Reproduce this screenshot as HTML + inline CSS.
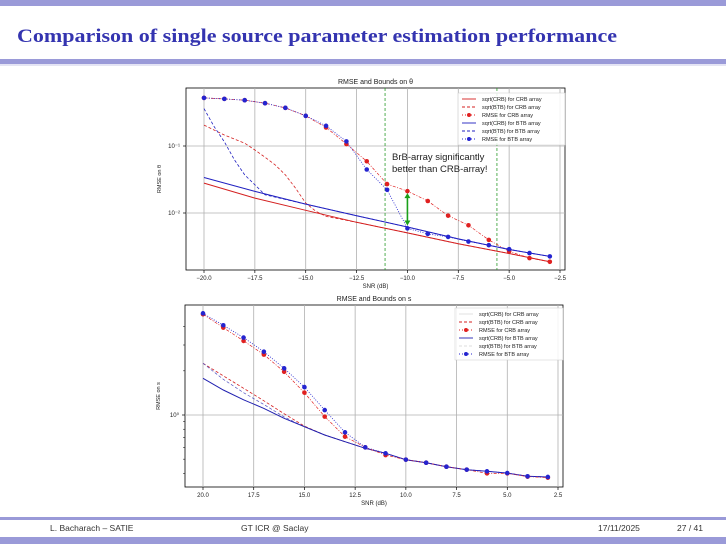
<!DOCTYPE html>
<html><head><meta charset="utf-8">
<style>
html,body{margin:0;padding:0;background:#fff;}
svg{display:block;font-family:"Liberation Sans",sans-serif;}
</style></head>
<body>
<svg id="slide" width="726" height="544" viewBox="0 0 726 544" xmlns="http://www.w3.org/2000/svg">
  <rect x="0" y="0" width="726" height="6" fill="#9a9ad8"/>
  <text x="17" y="42" font-family="Liberation Serif, serif" font-weight="bold" font-size="19" fill="#3434b0" textLength="600" lengthAdjust="spacingAndGlyphs">Comparison of single source parameter estimation performance</text>
  <rect x="0" y="59" width="726" height="5" fill="#9a9ad8"/>
  <rect x="0" y="64" width="726" height="2" fill="#e4e4f4"/>
  <g id="chart1"></g>
  <g id="chart2"></g>
  <rect x="0" y="517" width="726" height="3" fill="#9a9ad8"/>
  <rect x="0" y="537" width="726" height="7" fill="#9a9ad8"/>
  <text x="50" y="531" font-size="8.5" fill="#333">L. Bacharach  –  SATIE</text>
  <text x="241" y="531" font-size="8.5" fill="#333">GT ICR @ Saclay</text>
  <text x="598" y="531" font-size="8.5" fill="#333">17/11/2025</text>
  <text x="677" y="531" font-size="8.5" fill="#333">27 / 41</text>
</svg>
<script>
// ---------- Chart 1 data (RMSE on theta) ----------
const snr1 = [-20,-19,-18,-17,-16,-15,-14,-13,-12,-11,-10,-9,-8,-7,-6,-5,-4,-3];
const rmseBtb1 = [0.522,0.505,0.482,0.435,0.371,0.282,0.200,0.117,0.0446,0.0222,0.0059,0.00487,0.0044,0.00375,0.00331,0.00289,0.00252,0.00225];
const rmseCrb1 = [0.522,0.505,0.482,0.435,0.371,0.282,0.189,0.107,0.0592,0.0270,0.0212,0.0151,0.00912,0.00656,0.00397,0.00267,0.00212,0.00187];
const boundSnr1 = [-20,-17.5,-15,-12.5,-10,-7.5,-5,-3];
const crbCrb1 = [0.0279,0.0167,0.01096,0.00727,0.00505,0.00347,0.00249,0.00187];
const crbBtb1 = [0.0339,0.0210,0.0136,0.00912,0.00619,0.00411,0.00285,0.00225];
const btbSnrCrb1 = [-20,-19,-18,-17.5,-17,-16.5,-16,-15.5,-15,-14.5,-14,-12.5,-10,-7.5,-5,-3];
const btbCrb1 = [0.205,0.146,0.110,0.0873,0.0680,0.0523,0.0371,0.0235,0.0141,0.0106,0.00891,0.00727,0.00505,0.00347,0.00249,0.00187];
const btbSnrBtb1 = [-20,-19.5,-19,-18.5,-18,-17.5,-17,-15,-12.5,-10,-7.5,-5,-3];
const btbBtb1 = [0.362,0.194,0.116,0.0620,0.0371,0.0264,0.0187,0.0136,0.00912,0.00619,0.00411,0.00285,0.00225];
const xTicks1 = [-20,-17.5,-15,-12.5,-10,-7.5,-5,-2.5];
const xTickLabels1 = ["−20.0","−17.5","−15.0","−12.5","−10.0","−7.5","−5.0","−2.5"];
const yTicks1 = [0.1,0.01];
const yTickLabels1 = ["10⁻¹","10⁻²"];
const markerSnr1 = [-11.1,-5.6];
const arrowSnr1 = -10;
const arrowVals1 = [0.0198,0.0065];

// ---------- Chart 2 data (RMSE on s) ----------
const snr2 = [-20,-19,-18,-17,-16,-15,-14,-13,-12,-11,-10,-9,-8,-7,-6,-5,-4,-3];
const rmseBtb2 = [4.93,4.09,3.37,2.70,2.08,1.55,1.08,0.762,0.602,0.548,0.496,0.473,0.444,0.424,0.413,0.402,0.382,0.378];
const rmseCrb2 = [4.86,3.94,3.20,2.58,1.97,1.42,0.975,0.712,0.602,0.533,0.496,0.473,0.444,0.424,0.400,0.400,0.380,0.374];
const crbBtb2 = [1.78,1.48,1.27,1.11,0.949,0.832,0.731,0.658,0.593,0.548,0.496,0.473,0.444,0.424,0.413,0.402,0.382,0.378];
const btbCrb2 = [2.25,1.85,1.52,1.25,1.02,0.84,0.731,0.658,0.593,0.548,0.496,0.473,0.444,0.424,0.413,0.402,0.382,0.378];
const btbBtb2 = [2.25,1.75,1.42,1.18,0.97,0.832,0.731,0.658,0.593,0.548,0.496,0.473,0.444,0.424,0.413,0.402,0.382,0.378];
const xTicks2 = [-20,-17.5,-15,-12.5,-10,-7.5,-5,-2.5];
const xTickLabels2 = ["20.0","17.5","15.0","12.5","10.0","7.5","5.0","2.5"];
const yTicks2 = [1];
const yTickLabels2 = ["10⁰"];

const NS = "http://www.w3.org/2000/svg";
function mk(parent, tag, attrs, name){
  const e = document.createElementNS(NS, tag);
  for (const k in attrs) e.setAttribute(k, attrs[k]);
  
  
  parent.appendChild(e);
  return e;
}
function linScale(d0,d1,r0,r1){ return v => r0 + (v-d0)*(r1-r0)/(d1-d0); }
function logScale(v0,p0,decadePx){ return v => p0 - Math.log10(v/v0)*decadePx; }
function pathFrom(xs, ys, sx, sy){
  return xs.map((x,i)=>(i?'L':'M')+sx(x).toFixed(1)+' '+sy(ys[i]).toFixed(1)).join(' ');
}

function frame(g, box, title, xTicks, xLabels, yTicks, yLabels, sx, sy, xlab, ylab){
  mk(g,'rect',{x:box.l,y:box.t,width:box.r-box.l,height:box.b-box.t,fill:'#fff',stroke:'#000','stroke-width':0.8},'plot-area');
  xTicks.forEach((t,i)=>{
    const x = sx(t);
    mk(g,'line',{x1:x,x2:x,y1:box.t,y2:box.b,stroke:'#b0b0b0','stroke-width':0.8},'x-gridline');
    mk(g,'line',{x1:x,x2:x,y1:box.b,y2:box.b+3,stroke:'#000','stroke-width':0.7},'x-tick');
    const t1 = mk(g,'text',{x:x,y:box.b+10,'font-size':6,'text-anchor':'middle',fill:'#222'},'x-tick-label');
    t1.textContent = xLabels[i];
  });
  yTicks.forEach((t,i)=>{
    const y = sy(t);
    mk(g,'line',{x1:box.l,x2:box.r,y1:y,y2:y,stroke:'#b0b0b0','stroke-width':0.8},'y-gridline');
    mk(g,'line',{x1:box.l-3,x2:box.l,y1:y,y2:y,stroke:'#000','stroke-width':0.7},'y-tick');
    const t1 = mk(g,'text',{x:box.l-6,y:y+2,'font-size':6,'text-anchor':'end',fill:'#222'},'y-tick-label');
    t1.textContent = yLabels[i];
  });
  const tt = mk(g,'text',{x:(box.l+box.r)/2,y:box.t-4,'font-size':7,'text-anchor':'middle',fill:'#222'},'chart-title');
  tt.textContent = title;
  const xl = mk(g,'text',{x:(box.l+box.r)/2,y:box.b+18,'font-size':6,'text-anchor':'middle',fill:'#222'},'x-axis-title');
  xl.textContent = xlab;
  const yx = box.l-25, yy=(box.t+box.b)/2;
  const yl = mk(g,'text',{x:yx,y:yy,'font-size':5.5,'text-anchor':'middle',fill:'#222',transform:`rotate(-90 ${yx} ${yy})`},'y-axis-title');
  yl.textContent = ylab;
}

function legend(g, x, y, w, entries){
  mk(g,'rect',{x:x,y:y,width:w,height:entries.length*8+4,fill:'#fff','fill-opacity':0.85,stroke:'#ccc','stroke-width':0.5},'legend');
  entries.forEach((e,i)=>{
    const yy = y+6+i*8;
    mk(g,'line',{x1:x+4,x2:x+18,y1:yy,y2:yy,stroke:e.c,'stroke-width':0.9,'stroke-dasharray':e.d||'none'},'legend-line');
    if(e.m) mk(g,'circle',{cx:x+11,cy:yy,r:2,fill:e.c},'legend-marker');
    const t = mk(g,'text',{x:x+24,y:yy+2,'font-size':5.5,fill:'#222'},'legend-label');
    t.textContent = e.t;
  });
}

function series(g, xs, ys, sx, sy, color, dash, width, markers, name){
  mk(g,'path',{d:pathFrom(xs,ys,sx,sy),fill:'none',stroke:color,'stroke-width':width,'stroke-dasharray':dash||'none'},name+'-line');
  if(markers) xs.forEach((x,i)=>mk(g,'circle',{cx:sx(x),cy:sy(ys[i]),r:2.3,fill:color},name+'-point'));
}

// ---- Chart 1 ----
(function(){
  const g = document.getElementById('chart1');
  const box = {l:186,r:565,t:88,b:270};
  const sx = linScale(-20,-2.5,204,560);
  const sy = logScale(0.1,146,67);
  frame(g,box,'RMSE and Bounds on θ',xTicks1,xTickLabels1,yTicks1,yTickLabels1,sx,sy,'SNR (dB)','RMSE on θ');
  markerSnr1.forEach(v=>mk(g,'line',{x1:sx(v),x2:sx(v),y1:box.t,y2:box.b,stroke:'#2a9a2a','stroke-width':0.8,'stroke-dasharray':'3 2'},'threshold-marker'));
  series(g,boundSnr1,crbCrb1,sx,sy,'#d42020',null,1,false,'crb-crb-array');
  series(g,btbSnrCrb1,btbCrb1,sx,sy,'#d42020','3 2',0.8,false,'btb-crb-array');
  series(g,snr1,rmseCrb1,sx,sy,'#e02020','3 1.5 1 1.5',0.7,true,'rmse-crb-array');
  series(g,boundSnr1,crbBtb1,sx,sy,'#2020c0',null,1,false,'crb-btb-array');
  series(g,btbSnrBtb1,btbBtb1,sx,sy,'#2020c0','3 2',0.8,false,'btb-btb-array');
  series(g,snr1,rmseBtb1,sx,sy,'#2424d0','1 1.5',0.8,true,'rmse-btb-array');
  const ax = sx(arrowSnr1), a0 = sy(arrowVals1[0]), a1 = sy(arrowVals1[1]);
  mk(g,'line',{x1:ax,x2:ax,y1:a0+4,y2:a1-4,stroke:'#1aa01a','stroke-width':1.6},'gap-arrow');
  mk(g,'path',{d:`M${ax-3} ${a0+5} L${ax} ${a0} L${ax+3} ${a0+5} Z`,fill:'#1aa01a'},'gap-arrow-head-top');
  mk(g,'path',{d:`M${ax-3} ${a1-5} L${ax} ${a1} L${ax+3} ${a1-5} Z`,fill:'#1aa01a'},'gap-arrow-head-bottom');
  const a1t = mk(g,'text',{x:392,y:160,'font-size':9.5,fill:'#222'},'annotation-line-1'); a1t.textContent='BrB-array significantly';
  const a2t = mk(g,'text',{x:392,y:172,'font-size':9.5,fill:'#222'},'annotation-line-2'); a2t.textContent='better than CRB-array!';
  legend(g,458,93,107,[
    {c:'#d42020',t:'sqrt(CRB) for CRB array'},
    {c:'#d42020',d:'3 2',t:'sqrt(BTB) for CRB array'},
    {c:'#e02020',m:true,d:'1 2',t:'RMSE for CRB array'},
    {c:'#2020c0',t:'sqrt(CRB) for BTB array'},
    {c:'#2020c0',d:'3 2',t:'sqrt(BTB) for BTB array'},
    {c:'#2424d0',m:true,d:'1 2',t:'RMSE for BTB array'}
  ]);
})();

// ---- Chart 2 ----
(function(){
  const g = document.getElementById('chart2');
  const box = {l:185,r:563,t:305,b:487};
  const sx = linScale(-20,-2.5,203,558);
  const sy = logScale(1,415,146.7);
  frame(g,box,'RMSE and Bounds on s',xTicks2,xTickLabels2,yTicks2,yTickLabels2,sx,sy,'SNR (dB)','RMSE on s');
  [0.9,0.8,0.7,0.6,0.5,0.4,2,3,4].forEach(v=>{
    const y = sy(v);
    if(y>box.t && y<box.b) mk(g,'line',{x1:box.l-2,x2:box.l,y1:y,y2:y,stroke:'#000','stroke-width':0.5},'y-minor-tick');
  });
  series(g,snr2,btbCrb2,sx,sy,'#d42020','3 2',0.8,false,'btb-crb-array');
  series(g,snr2,btbBtb2,sx,sy,'#5050c0','3 2',0.7,false,'btb-btb-array');
  series(g,snr2,crbBtb2,sx,sy,'#2020b0',null,1,false,'crb-btb-array');
  series(g,snr2,rmseCrb2,sx,sy,'#e02020','3 1.5 1 1.5',0.7,true,'rmse-crb-array');
  series(g,snr2,rmseBtb2,sx,sy,'#2424d0','1 1.5',0.8,true,'rmse-btb-array');
  legend(g,455,308,108,[
    {c:'#dddddd',t:'sqrt(CRB) for CRB array'},
    {c:'#d42020',d:'3 2',t:'sqrt(BTB) for CRB array'},
    {c:'#e02020',m:true,d:'1 2',t:'RMSE for CRB array'},
    {c:'#2020b0',t:'sqrt(CRB) for BTB array'},
    {c:'#dddddd',d:'3 2',t:'sqrt(BTB) for BTB array'},
    {c:'#2424d0',m:true,d:'1 2',t:'RMSE for BTB array'}
  ]);
})();
</script>
</body></html>
